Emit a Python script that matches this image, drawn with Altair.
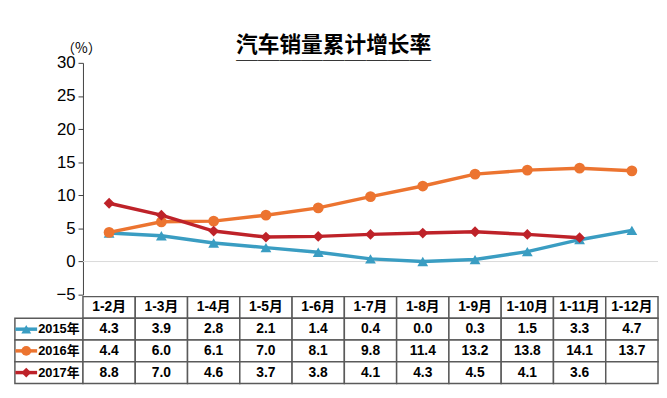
import altair as alt
import pandas as pd

# ---------------- data ----------------
months = ["1-2月", "1-3月", "1-4月", "1-5月", "1-6月", "1-7月",
          "1-8月", "1-9月", "1-10月", "1-11月", "1-12月"]
series_names = ["2015年", "2016年", "2017年"]
v2015 = [4.3, 3.9, 2.8, 2.1, 1.4, 0.4, 0.0, 0.3, 1.5, 3.3, 4.7]
v2016 = [4.4, 6.0, 6.1, 7.0, 8.1, 9.8, 11.4, 13.2, 13.8, 14.1, 13.7]
v2017 = [8.8, 7.0, 4.6, 3.7, 3.8, 4.1, 4.3, 4.5, 4.1, 3.6, None]
y_ticks = [-5, 0, 5, 10, 15, 20, 25, 30]
title_text = "汽车销量累计增长率"
unit_label = "（%）"

# ---------------- styles ----------------
colors = ["#3A9DC2", "#EC7430", "#BE2229"]
point_shapes = ["triangle-up", "circle", "diamond"]
NUM_FONT = "Liberation Sans, Noto Sans CJK SC"
CJK_FONT = "Noto Sans CJK SC"
GRID_COLOR = "#5A5A5A"
W_LABEL, W_TABLE, H_TOP, H_TABLE = 69, 583, 235, 88

# ---------------- tables ----------------
rows = []
for name, vals in zip(series_names, [v2015, v2016, v2017]):
    for m, v in zip(months, vals):
        rows.append({"series": name, "month": m, "value": v})
df = pd.DataFrame(rows)
line_df = df.dropna()

HEADER = "header"
row_domain = [HEADER] + series_names
cells = [{"row": HEADER, "month": m, "text": m} for m in months]
for r in rows:
    cells.append({"row": r["series"], "month": r["month"],
                  "text": "" if r["value"] is None or pd.isna(r["value"]) else f"{r['value']:.1f}"})
cells_df = pd.DataFrame(cells)
label_df = pd.DataFrame({"series": series_names, "col": ["c"] * 3})

# ---------------- top: line chart ----------------
x_top = alt.X("month:N", sort=months,
              scale=alt.Scale(type="point", domain=months, padding=0.5), axis=None)
y_axis = alt.Axis(values=y_ticks, grid=False, title=unit_label,
                  titleAngle=0, titleX=-2, titleY=-15,
                  titleAlign="center", titleBaseline="middle",
                  titleFontSize=14, titleFont=CJK_FONT,
                  titleFontWeight="normal", titleColor="black",
                  labelFontSize=17, labelFont="Liberation Sans",
                  labelColor="black", labelPadding=3,
                  tickSize=5, tickColor="#404040", tickWidth=1,
                  domainColor="#404040", domainWidth=1)
y_top = alt.Y("value:Q", scale=alt.Scale(domain=[-5, 30], nice=False, zero=False), axis=y_axis)
color = alt.Color("series:N", scale=alt.Scale(domain=series_names, range=colors), legend=None)
shape = alt.Shape("series:N", scale=alt.Scale(domain=series_names, range=point_shapes), legend=None)

zero_rule = alt.Chart(pd.DataFrame({"value": [0]})).mark_rule(
    color="#D9D9D9", strokeWidth=1).encode(y=y_top)
lines = alt.Chart(line_df).mark_line(strokeWidth=3.5).encode(x=x_top, y=y_top, color=color)
points = alt.Chart(line_df).mark_point(filled=True, size=120, opacity=1).encode(
    x=x_top, y=y_top, color=color, shape=shape)
top = alt.layer(zero_rule, lines, points).properties(width=W_TABLE, height=H_TOP)

spacer = alt.Chart(pd.DataFrame({"a": [0]})).mark_point(opacity=0).properties(
    width=W_LABEL, height=H_TOP)

# ---------------- bottom: data table ----------------
x_tab = alt.X("month:N", sort=months,
              scale=alt.Scale(domain=months, paddingInner=0, paddingOuter=0), axis=None)
y_tab = alt.Y("row:N", sort=row_domain,
              scale=alt.Scale(domain=row_domain, paddingInner=0, paddingOuter=0), axis=None)
tab_rect = alt.Chart(cells_df).mark_rect(fill="white", stroke=GRID_COLOR, strokeWidth=1.5).encode(
    x=x_tab, y=y_tab)
tab_text = alt.Chart(cells_df).mark_text(fontSize=14, fontWeight="bold", font=NUM_FONT,
                                         color="black", baseline="middle").encode(
    x=x_tab, y=y_tab, text="text:N")
table = alt.layer(tab_rect, tab_text).properties(width=W_TABLE, height=H_TABLE)

# ---------------- bottom-left: row labels with swatches ----------------
x_lab = alt.X("col:N", scale=alt.Scale(paddingInner=0, paddingOuter=0), axis=None)
y_lab = alt.Y("series:N", sort=row_domain,
              scale=alt.Scale(domain=row_domain, paddingInner=0, paddingOuter=0), axis=None)
lab_rect = alt.Chart(label_df).mark_rect(fill="white", stroke=GRID_COLOR, strokeWidth=1.5).encode(
    x=x_lab, y=y_lab)
lab_line = alt.Chart(label_df).mark_point(shape="stroke", size=484, strokeWidth=3.5,
                                          filled=False, opacity=1, xOffset=-23).encode(
    x=x_lab, y=y_lab, color=color)
lab_marker = alt.Chart(label_df).mark_point(filled=True, size=100, opacity=1, xOffset=-23).encode(
    x=x_lab, y=y_lab, color=color, shape=shape)
lab_text = alt.Chart(label_df).mark_text(fontSize=13, fontWeight="bold", font=NUM_FONT,
                                         color="black", align="right", dx=31).encode(
    x=x_lab, y=y_lab, text="series:N")
labels = alt.layer(lab_rect, lab_line, lab_marker, lab_text).properties(
    width=W_LABEL, height=H_TABLE)

chart = alt.concat(spacer, top, labels, table, columns=2,
                   spacing={"row": 2, "column": 0}, bounds="flush", align="each").resolve_scale(
    color="independent", shape="independent").properties(
    title=alt.TitleParams(text=title_text, subtitle="＿" * 9, fontSize=22, font=CJK_FONT,
                          fontWeight="bold", color="black", subtitleFontSize=22,
                          subtitleFont=CJK_FONT, subtitleColor="black", subtitlePadding=-16,
                          anchor="middle", offset=-22),
    padding={"left": 0, "top": 24, "right": 0, "bottom": 0},
).configure_view(stroke=None)

chart.save("out.html", embed_options={"renderer": "svg", "actions": False})
